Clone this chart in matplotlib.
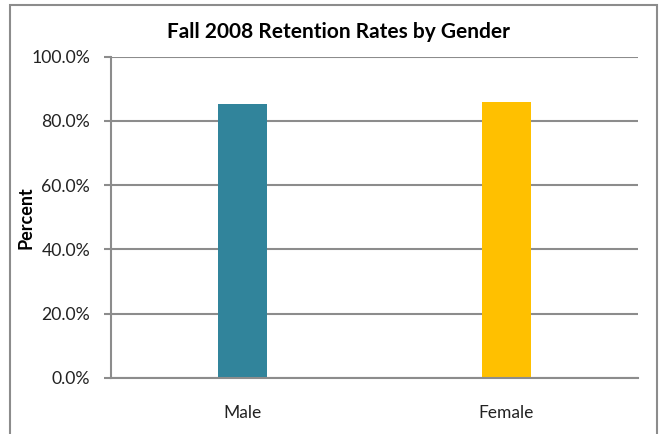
import numpy as np
import matplotlib.pyplot as plt
from matplotlib.patches import Rectangle
from matplotlib.ticker import PercentFormatter

# data
genders = ["Male", "Female"]
retention = [85.3, 85.9]
bar_colors = ["#31849b", "#ffc000"]
yticks = [0, 20, 40, 60, 80, 100]

plt.rcParams['font.family'] = ['Lato', 'DejaVu Sans']

fig = plt.figure(figsize=(6.68, 4.34), dpi=100)
W, H = 668, 434
ax = fig.add_axes([111 / W, 1 - 377.7 / H, 527 / W, 320.9 / H])

x = np.arange(len(genders))
ax.bar(x, retention, width=0.186, color=bar_colors, zorder=3)

ax.set_xlim(-0.5, 1.5)
ax.set_ylim(0, 100)
ax.set_yticks(yticks)
ax.yaxis.set_major_formatter(PercentFormatter(decimals=1))
ax.set_xticks(x)
ax.set_xticklabels(genders, fontsize=12.5, color="#222222")
ax.tick_params(axis="x", length=0, pad=20)
ax.tick_params(axis="y", length=5, width=1.5, color="#8c8c8c", labelsize=12.7,
               labelcolor="#222222", pad=10)

ax.grid(axis="y", color="#8c8c8c", linewidth=1.5, zorder=0)
for side in ["top", "right"]:
    ax.spines[side].set_visible(False)
ax.spines["left"].set_color("#8c8c8c")
ax.spines["left"].set_linewidth(1.5)
ax.spines["bottom"].set_color("#8c8c8c")
ax.spines["bottom"].set_linewidth(1.5)
ax.spines["bottom"].set_zorder(4)

ax.set_ylabel("Percent", fontsize=13, fontweight="bold")
ax.yaxis.set_label_coords(-0.146, 0.5)
fig.text(338 / W, 1 - 32 / H, "Fall 2008 Retention Rates by Gender",
         ha="center", va="center", fontsize=15, fontweight="bold")

# outer chart frame
frame = Rectangle((10 / W, -0.05), (657 - 10) / W, 1.05 - 5 / H,
                  transform=fig.transFigure, fill=False,
                  edgecolor="#8c8c8c", linewidth=1.5)
fig.patches.append(frame)

fig.savefig("out.png", dpi=100)
